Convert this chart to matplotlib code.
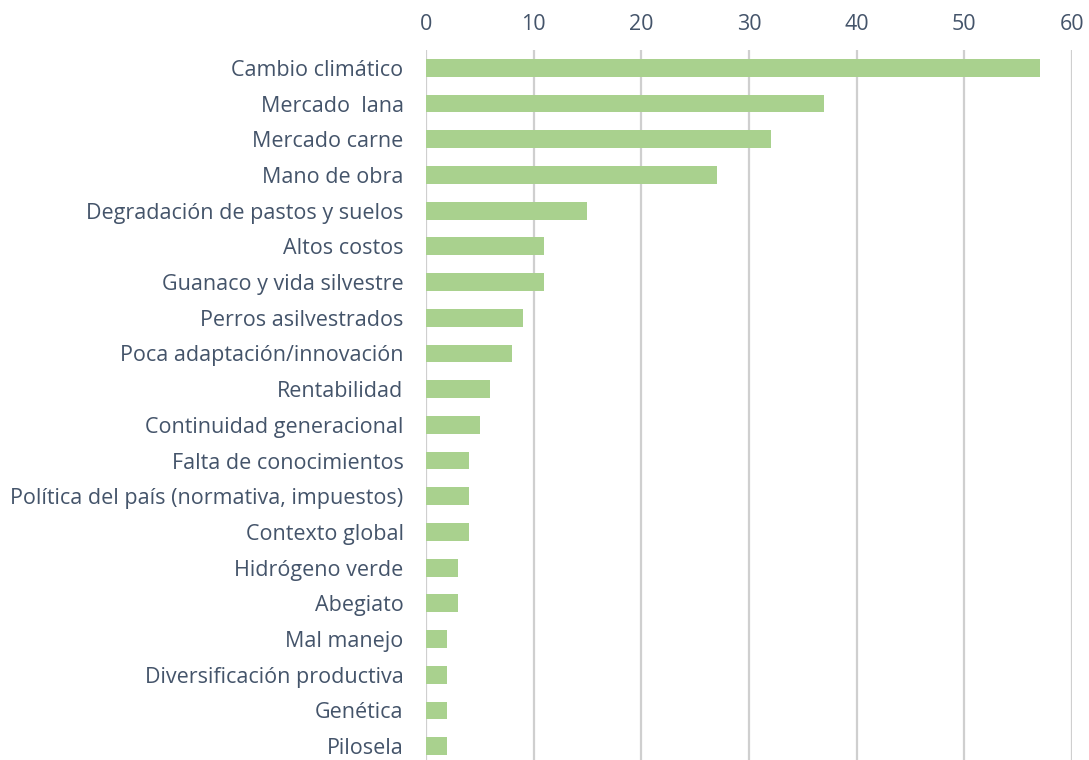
import matplotlib
matplotlib.use("Agg")
import matplotlib.pyplot as plt

categories = ["Cambio climático", "Mercado  lana", "Mercado carne", "Mano de obra",
              "Degradación de pastos y suelos", "Altos costos", "Guanaco y vida silvestre",
              "Perros asilvestrados", "Poca adaptación/innovación", "Rentabilidad",
              "Continuidad generacional", "Falta de conocimientos",
              "Política del país (normativa, impuestos)", "Contexto global",
              "Hidrógeno verde", "Abegiato", "Mal manejo", "Diversificación productiva",
              "Genética", "Pilosela"]
values = [57, 37, 32, 27, 15, 11, 11, 9, 8, 6, 5, 4, 4, 4, 3, 3, 2, 2, 2, 2]
xticks = [0, 10, 20, 30, 40, 50, 60]

text_color = "#44546A"
plt.rcParams['font.family'] = ['Open Sans', 'DejaVu Sans']

fig = plt.figure(figsize=(10.89, 7.60), dpi=100)
ax = fig.add_axes([0.391, -0.0053, 0.5935, 0.9395])

y = list(range(len(categories)))
ax.barh(y, values, height=0.5, color="#A9D18E", zorder=3)
ax.set_ylim(len(categories) - 0.5, -0.5)
ax.set_xlim(0, 60)
ax.set_xticks(xticks)
ax.xaxis.tick_top()
ax.set_yticks(y)
ax.set_yticklabels(categories)
ax.grid(axis='x', color="#CFCFCF", linewidth=1.6, zorder=0)
for s in ax.spines.values():
    s.set_visible(False)
ax.tick_params(axis='both', length=0, labelsize=15.5, colors=text_color)
ax.tick_params(axis='x', pad=11)
ax.tick_params(axis='y', pad=16)

fig.savefig("out.png", dpi=100)
